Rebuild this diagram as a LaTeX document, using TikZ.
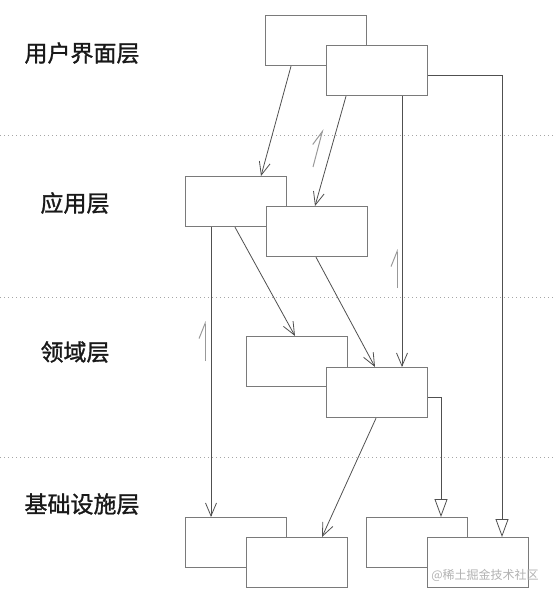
\documentclass[tikz,border=0pt]{standalone}
\usepackage{fontspec}
\newfontfamily\cjk{Noto Sans CJK SC}
\newfontfamily\cjkb[FakeBold=1.2]{Noto Sans CJK SC}
\usetikzlibrary{arrows.meta,calc}
\definecolor{boxline}{HTML}{7A7A7A}
\definecolor{conn}{HTML}{505050}
\tikzset{
  box/.style={draw=boxline, line width=1.2pt, fill=white, minimum width=101pt, minimum height=50pt, anchor=north west, inner sep=0pt},
  dep/.style={draw=conn, line width=0.8pt, -{Straight Barb[length=13pt,width=11pt,line width=0.8pt]}},
  gen/.style={draw=conn, line width=0.8pt, -{Triangle[open,length=18pt,width=13pt,line width=0.8pt,fill=white]}},
  sep/.style={draw=gray!70, line width=0.9pt, dash pattern=on 1pt off 3pt},
  layer/.style={font=\cjkb\fontsize{23}{28}\selectfont, text=black!90, inner sep=0pt},
  harp/.style={draw=gray!80, line width=1pt, -{Straight Barb[left,length=15pt,width=12pt,line width=1pt]}},
  wm/.style={font=\cjk\fontsize{12}{14}\selectfont, text=gray!60, inner sep=0pt}
}
\begin{document}
\begin{tikzpicture}[x=1pt,y=-1pt]
\useasboundingbox[fill=white] (0,0) rectangle (553,596);
% separators
\coordinate (s1l) at (0,135); \coordinate (s1r) at (553,135);
\coordinate (s2l) at (0,297); \coordinate (s2r) at (553,297);
\coordinate (s3l) at (0,457); \coordinate (s3r) at (553,457);
\draw[sep] (s1l) -- (s1r);
\draw[sep] (s2l) -- (s2r);
\draw[sep] (s3l) -- (s3r);
% layer labels
\node[layer] (l1) at (82,53) {用户界面层};
\node[layer] (l2) at (75,203) {应用层};
\node[layer] (l3) at (75,352) {领域层};
\node[layer] (l4) at (82,504) {基础设施层};
% boxes
\node[box] (A) at (265,15) {};
\node[box] (B) at (326,45) {};
\node[box] (C1) at (185,176) {};
\node[box] (C2) at (266,206) {};
\node[box] (D1) at (246,336) {};
\node[box] (D2) at (326,367) {};
\node[box] (I1) at (185,517) {};
\node[box] (I2) at (246,537) {};
\node[box] (I3) at (366,517) {};
\node[box] (I4) at (427,537) {};
% connectors
\draw[dep] ($(A.south west)+(26,0)$) -- ($(C1.north west)+(76,0)$);
\draw[dep] ($(B.south west)+(20,0)$) -- ($(C2.north west)+(49,0)$);
\draw[dep] ($(B.south west)+(76,0)$) -- ($(D2.north west)+(76,0)$);
\draw[gen] ($(B.north east)+(0,30)$) -| ($(I4.north west)+(75,0)$);
\draw[dep] ($(C1.south west)+(50,0)$) -- ($(D1.north west)+(49,0)$);
\draw[dep] ($(C2.south west)+(50,0)$) -- ($(D2.north west)+(49,0)$);
\draw[dep] ($(C1.south west)+(26,0)$) -- ($(I1.north west)+(26,0)$);
\draw[gen] ($(D2.north east)+(0,30)$) -| ($(I3.north west)+(75,0)$);
\draw[dep] ($(D2.south west)+(50,0)$) -- ($(I2.north west)+(76,0)$);
% direction marks
\coordinate (h1a) at (313,167); \coordinate (h1b) at (323,129);
\coordinate (h2a) at (397,288); \coordinate (h2b) at (397,249);
\coordinate (h3a) at (205,361); \coordinate (h3b) at (205,321);
\draw[harp] (h1a) -- (h1b);
\draw[harp] (h2a) -- (h2b);
\draw[harp] (h3a) -- (h3b);
% watermark
\node[wm] (wmk) at (485,575) {@稀土掘金技术社区};
\end{tikzpicture}
\end{document}
